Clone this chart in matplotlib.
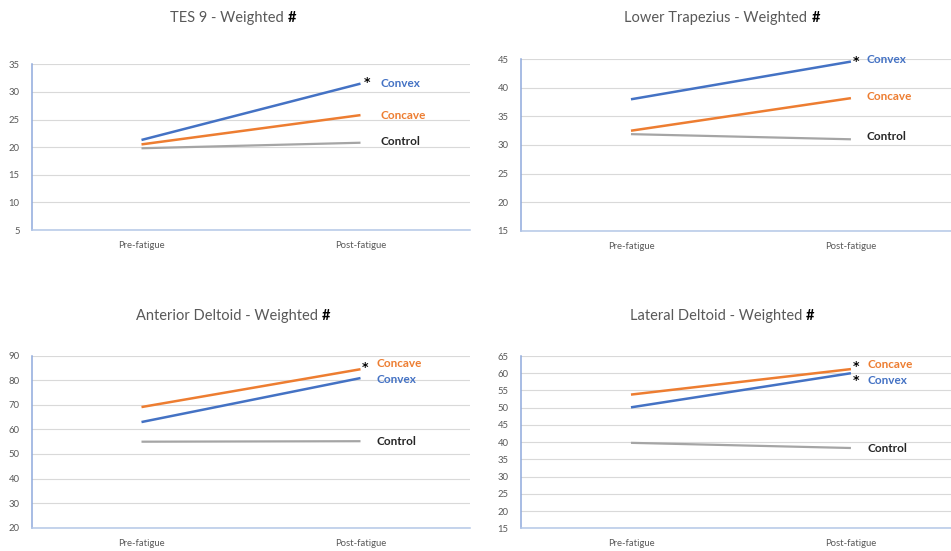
import matplotlib

matplotlib.use("Agg")

import matplotlib.pyplot as plt

plt.rcParams["font.family"] = ["Lato", "DejaVu Sans"]

# x categories shared by all four panels
phases = ["Pre-fatigue", "Post-fatigue"]

# panel titles (the bold "#" is added separately)
titles = [
    "TES 9 - Weighted",
    "Lower Trapezius - Weighted",
    "Anterior Deltoid - Weighted",
    "Lateral Deltoid - Weighted",
]

# values: [pre, post]
tes9_convex = [21.3, 31.5]
tes9_concave = [20.5, 25.8]
tes9_control = [19.8, 20.8]

trap_convex = [38.0, 44.6]
trap_concave = [32.5, 38.2]
trap_control = [31.9, 31.0]

ant_convex = [63.0, 80.9]
ant_concave = [69.1, 84.5]
ant_control = [55.0, 55.2]

lat_convex = [50.1, 60.0]
lat_concave = [53.8, 61.2]
lat_control = [39.8, 38.3]

# y ranges / tick steps
y_ranges = [(5, 35, 5), (15, 45, 5), (20, 90, 10), (15, 65, 5)]

COLORS = {
    "Convex": "#4472C4",
    "Concave": "#ED7D31",
    "Control": "#A5A5A5",
}
LABEL_COLORS = {
    "Convex": "#4472C4",
    "Concave": "#ED7D31",
    "Control": "#262626",
}
TEXT_GRAY = "#595959"

W, H = 951, 551


def fx(px):
    return px / W


def fy(py):
    return 1 - py / H


fig = plt.figure(figsize=(W / 100, H / 100), dpi=100)
fig.patch.set_facecolor("white")

# axes boxes in pixels: left, top, right, bottom
boxes = [
    (32, 64.3, 470, 230),
    (521, 59.3, 951, 230.7),
    (32, 355.7, 470, 527.7),
    (521, 356, 951, 528.3),
]
xlims = [(-0.5, 1.5), (-0.5, 1.455), (-0.5, 1.5), (-0.5, 1.455)]
# title centre (x) and vertical centre (y), pixels
title_pos = [(233, 18), (722, 18), (233, 316), (722, 316)]

series = [
    {"Convex": tes9_convex, "Concave": tes9_concave, "Control": tes9_control},
    {"Convex": trap_convex, "Concave": trap_concave, "Control": trap_control},
    {"Convex": ant_convex, "Concave": ant_concave, "Control": ant_control},
    {"Convex": lat_convex, "Concave": lat_concave, "Control": lat_control},
]

# label offsets (pixels) from the post-fatigue end of each line
label_offsets = [
    {"Convex": (20, 0), "Concave": (20, 0), "Control": (20, 1)},
    {"Convex": (16, 2), "Concave": (16, 2), "Control": (16, 2.5)},
    {"Concave": (16, 6), "Convex": (16, -1), "Control": (16, 0)},
    {"Concave": (17, 5), "Convex": (17, -7.4), "Control": (17, 0)},
]
star_offsets = [
    {"Convex": (7, 1)},
    {"Convex": (5, 0)},
    {"Concave": (5, 1.5)},
    {"Concave": (5, 3), "Convex": (5, -7)},
]

for i in range(4):
    l, t, r, b = boxes[i]
    ax = fig.add_axes([fx(l), fy(b), fx(r) - fx(l), fy(t) - fy(b)])
    lo, hi, step = y_ranges[i]
    ax.set_ylim(lo, hi)
    ax.set_yticks(range(lo, hi + 1, step))
    ax.set_xlim(*xlims[i])
    ax.set_xticks([0, 1])
    ax.set_xticklabels(phases)
    ax.grid(axis="y", color="#D9D9D9", linewidth=0.8)
    ax.set_axisbelow(True)
    for side in ("top", "right"):
        ax.spines[side].set_visible(False)
    ax.spines["left"].set_color("#8FAADC")
    ax.spines["left"].set_linewidth(1.1)
    ax.spines["bottom"].set_color("#B4C7E7")
    ax.spines["bottom"].set_linewidth(1.1)
    ax.tick_params(axis="both", length=0, labelcolor=TEXT_GRAY, labelsize=6.8)
    ax.tick_params(axis="y", pad=9)
    ax.tick_params(axis="x", pad=8)

    for name in ("Control", "Concave", "Convex"):
        vals = series[i][name]
        lw = 1.8 if name != "Control" else 1.6
        ax.plot([0, 1], vals, color=COLORS[name], linewidth=lw, solid_capstyle="butt")

    for name, (dx, dy) in label_offsets[i].items():
        end = series[i][name][1]
        ax.annotate(name, xy=(1, end), xytext=(dx, dy), textcoords="offset pixels",
                    ha="left", va="center", fontsize=8.5, fontweight="bold",
                    color=LABEL_COLORS[name])
    for name, (dx, dy) in star_offsets[i].items():
        end = series[i][name][1]
        ax.annotate("*", xy=(1, end), xytext=(dx, dy), textcoords="offset pixels",
                    ha="center", va="center", fontsize=9, fontweight="bold",
                    color="black", family=["DejaVu Sans"])

    cx, cy = title_pos[i]
    main = fig.text(fx(cx - 6), fy(cy), titles[i], ha="center", va="center",
                    fontsize=10.5, color=TEXT_GRAY)
    ax.annotate("#", xy=(1, 0.5), xycoords=main, xytext=(4, 0),
                textcoords="offset pixels", ha="left", va="center",
                fontsize=10.5, fontweight="bold", color="black")

fig.savefig("out.png", dpi=100, facecolor="white")
